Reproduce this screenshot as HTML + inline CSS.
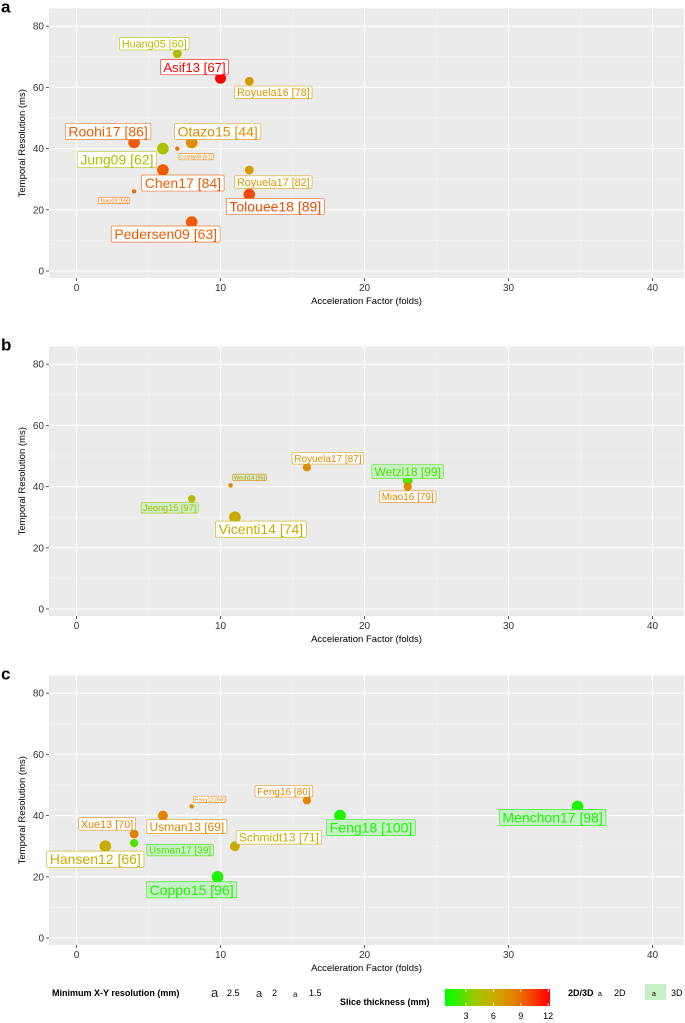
<!DOCTYPE html>
<html><head><meta charset="utf-8"><style>
html,body{margin:0;padding:0;background:#fff;}
svg{display:block;font-family:"Liberation Sans",sans-serif;}
</style></head><body>
<svg id="chart" width="685" height="1023" viewBox="0 0 685 1023"></svg>
<script>
// ---- data ----
const panelLetters = ["a","b","c"];
const namesA = ["Huang05","Asif13","Royuela16","Roohi17","Jung09","Otazo15","Lustig08","Chen17","Royuela17","Tsao03","Tolouee18","Pedersen09"];
const refsA = [60,67,78,86,62,44,61,84,82,59,89,63];
const accelA = [7,10,12,4,6,8,7,6,12,4,12,8];
const tempA = [71,63,62,42,40,42,40,33,33,26,25,16];
const sliceA = [5,12,7,9.5,4.5,7.5,8.5,9.5,7,9,10,9.5];
const resA = [2.1,2.4,2.1,2.5,2.5,2.5,1.45,2.5,2.1,1.45,2.5,2.5];
const dimA = ["2D","2D","2D","2D","2D","2D","2D","2D","2D","2D","2D","2D"];

const namesB = ["Jeong15","Wech14","Vicenti14","Royuela17","Wetzl18","Miao16"];
const refsB = [97,95,74,87,99,79];
const accelB = [8,10.7,11,16,23,23];
const tempB = [36,40.4,30,46.3,42,40];
const sliceB = [5,8,6,7.5,2.5,8];
const resB = [1.9,1.45,2.5,2.0,2.25,2.0];
const dimB = ["3D","3D","2D","2D","3D","2D"];

const namesC = ["Hansen12","Xue13","Usman17","Usman13","Feng13","Schmidt13","Coppo15","Feng16","Feng18","Menchon17"];
const refsC = [66,70,39,69,68,71,96,80,100,98];
const accelC = [2,4,4,6,8,11,9.8,16,18.3,34.8];
const tempC = [30,34,31,40,43,30,20,45,40,43];
const sliceC = [6,8,2.5,8,8,6,1.5,8,1.5,1.5];
const resC = [2.5,2.1,2.0,2.25,1.45,2.25,2.5,2.0,2.5,2.5];
const dimC = ["2D","2D","3D","2D","2D","2D","3D","2D","3D","3D"];

const xTicks = [0,10,20,30,40];
const yTicks = [0,20,40,60,80];
const colorTicks = [3,6,9,12];
const sizeLegend = [2.5,2,1.5];

// label placement offsets (layout only)
const offA = [[-23,-10],[-26,-11],[24,11],[-26,-11],[-46,11],[26,-11],[19,8],[20,13],[24,12],[-20,9],[26,12],[-26,12]];
const offB = [[-22,9],[19,-8],[26,12],[21,-9],[0,-9],[0,10]];
const offC = [[-10,13],[-27,-10],[46,7],[24,11],[18,-7],[44,-9],[-26,13],[-23,-9],[31,12],[-25,11]];

// ---- helpers ----
const svg = document.getElementById('chart');
const NS = "http://www.w3.org/2000/svg";
function mk(tag, attrs, parent){const e=document.createElementNS(NS,tag);for(const k in attrs)e.setAttribute(k,attrs[k]);(parent||svg).appendChild(e);return e;}
const stops=[[1,[0,255,0]],[4,[160,200,0]],[6.5,[210,165,0]],[9,[238,110,0]],[12,[255,0,0]]];
function col(v){v=Math.max(1,Math.min(12,v));for(let i=0;i<stops.length-1;i++){const a=stops[i],b=stops[i+1];if(v<=b[0]){const t=(v-a[0])/(b[0]-a[0]);const c=a[1].map((q,j)=>Math.round(q+(b[1][j]-q)*t));return `rgb(${c[0]},${c[1]},${c[2]})`;}}return 'rgb(255,0,0)';}
function fontFor(r){return 6+(r-1.5)*8;}
function radFor(r){return 2.4+(r-1.5)*3.4;}

const X0=76.5, XS=14.4, YS=3.06;
const panelTops=[0,338,667];
const panels=[[namesA,refsA,accelA,tempA,sliceA,resA,dimA,offA],[namesB,refsB,accelB,tempB,sliceB,resB,dimB,offB],[namesC,refsC,accelC,tempC,sliceC,resC,dimC,offC]];

panels.forEach((p,pi)=>{
  const y0 = 271 + panelTops[pi];
  const xs = v => X0 + v*XS;
  const ys = v => y0 - v*YS;
  const g = mk('g',{});
  
  
  const L=49, R=684, T=ys(85.8), B=ys(-2.3);
  const bg=mk('rect',{x:L,y:T,width:R-L,height:B-T,fill:'#ebebeb'},g);
  
  
  for(let v=5;v<=45;v+=10){if(xs(v)<R)mk('line',{x1:xs(v),x2:xs(v),y1:T,y2:B,stroke:'#f5f5f5','stroke-width':0.6},g);}
  for(let v=10;v<=70;v+=20){mk('line',{x1:L,x2:R,y1:ys(v),y2:ys(v),stroke:'#f5f5f5','stroke-width':0.6},g);}
  xTicks.forEach(v=>{
    mk('line',{x1:xs(v),x2:xs(v),y1:T,y2:B,stroke:'#fff','stroke-width':1.1},g);
    mk('line',{x1:xs(v),x2:xs(v),y1:B,y2:B+3,stroke:'#333','stroke-width':0.8},g);
    const t=mk('text',{x:xs(v),y:B+13,'font-size':10,'text-anchor':'middle',fill:'#333'},g);t.textContent=v;
    
    
  });
  yTicks.forEach(v=>{
    mk('line',{x1:L,x2:R,y1:ys(v),y2:ys(v),stroke:'#fff','stroke-width':1.1},g);
    mk('line',{x1:L-3,x2:L,y1:ys(v),y2:ys(v),stroke:'#333','stroke-width':0.8},g);
    const t=mk('text',{x:L-5,y:ys(v)+3.5,'font-size':10,'text-anchor':'end',fill:'#333'},g);t.textContent=v;
    
    
  });
  const xt=mk('text',{x:(L+R)/2,y:B+26,'font-size':9.5,'text-anchor':'middle',fill:'#000'},g);xt.textContent='Acceleration Factor (folds)';
  
  
  const yc=(T+B)/2;
  const yt=mk('text',{x:25,y:yc,'font-size':9.5,'text-anchor':'middle',fill:'#000',transform:`rotate(-90 25 ${yc})`},g);yt.textContent='Temporal Resolution (ms)';
  
  
  const pl=mk('text',{x:1,y:T+4,'font-size':17,'font-weight':'bold',fill:'#000'},g);pl.textContent=panelLetters[pi];
  
  
  const [nm,rf,ax,ty,sl,rs,dm,off]=p;
  nm.forEach((n,i)=>{
    const c=col(sl[i]); const px=xs(ax[i]), py=ys(ty[i]);
    const dot=mk('circle',{cx:px,cy:py,r:radFor(rs[i]),fill:c},g);
    
    
    const fs=fontFor(rs[i]);
    const lx=px+off[i][0], ly=py+off[i][1];
    const lg=mk('g',{},g);
    
    
    const txt=mk('text',{x:lx,y:ly+fs*0.36,'font-size':fs,'text-anchor':'middle',fill:c},lg);
    txt.textContent=n+' ['+rf[i]+']';
    const w=txt.getComputedTextLength();
    const h=fs*1.15;
    const rect=mk('rect',{x:lx-w/2-fs*0.22,y:ly-h/2,width:w+fs*0.44,height:h,rx:1.5,fill:dm[i]==='3D'?'#c8f0c8':'#fff',stroke:c,'stroke-width':0.7,'stroke-opacity':0.8},lg);
    lg.insertBefore(rect,txt);
  });
});

// ---- legend ----
const lg=mk('g',{});


const ly=996;
let t=mk('text',{x:52,y:ly,'font-size':9,'font-weight':'bold'},lg);t.textContent='Minimum X-Y resolution (mm)';


const sizeX=[211,256,293];
sizeLegend.forEach((v,i)=>{
  const fs=[13,11,8][i];
  const a=mk('text',{x:sizeX[i],y:ly+1,'font-size':fs,fill:'#222'},lg);a.textContent='a';
  
  
  const l=mk('text',{x:sizeX[i]+16,y:ly,'font-size':9},lg);l.textContent=v;
  
  
});
t=mk('text',{x:340,y:1005,'font-size':9,'font-weight':'bold'},lg);t.textContent='Slice thickness (mm)';


const defs=mk('defs',{});
const grad=mk('linearGradient',{id:'cg',x1:0,x2:1,y1:0,y2:0},defs);
const cbL=445,cbR=550,cbMin=0.7,cbMax=12.2;
for(let k=0;k<=10;k++){const v=cbMin+(cbMax-cbMin)*k/10;mk('stop',{offset:k/10,'stop-color':col(v)},grad);}
const cb=mk('rect',{x:cbL,y:989,width:cbR-cbL,height:17,fill:'url(#cg)'},lg);


colorTicks.forEach(v=>{
  const x=cbL+(v-cbMin)/(cbMax-cbMin)*(cbR-cbL);
  mk('line',{x1:x,x2:x,y1:989,y2:992,stroke:'#fff','stroke-width':0.8},lg);
  mk('line',{x1:x,x2:x,y1:1003,y2:1006,stroke:'#fff','stroke-width':0.8},lg);
  const tt=mk('text',{x:x,y:1019,'font-size':9,'text-anchor':'middle'},lg);tt.textContent=v;
  
  
});
t=mk('text',{x:568,y:ly,'font-size':9,'font-weight':'bold'},lg);t.textContent='2D/3D';


t=mk('text',{x:598,y:ly,'font-size':7},lg);t.textContent='a';
t=mk('text',{x:614,y:ly,'font-size':9},lg);t.textContent='2D';


mk('rect',{x:645,y:984,width:21,height:16,fill:'#c8f0c8'},lg);
t=mk('text',{x:652,y:ly,'font-size':7},lg);t.textContent='a';
t=mk('text',{x:671,y:ly,'font-size':9},lg);t.textContent='3D';


</script>
</body></html>
